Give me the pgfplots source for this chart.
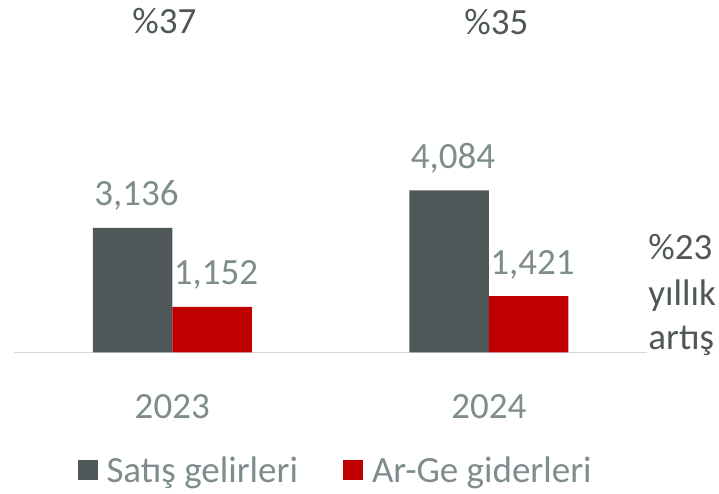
\documentclass[border=0pt]{standalone}
\usepackage{pgfplots}
\pgfplotsset{compat=1.18}
\usepackage{fontspec}
\setmainfont{Carlito}
\definecolor{barGray}{HTML}{505759}
\definecolor{barRed}{HTML}{C00000}
\definecolor{lblGray}{HTML}{7F8C8D}
\definecolor{axGray}{HTML}{D9D9D9}
\definecolor{txtDark}{HTML}{505759}
\begin{document}
\begin{tikzpicture}[font=\fontsize{37pt}{45pt}\selectfont]
\useasboundingbox (0,0) rectangle (719pt,494pt);
\begin{axis}[
  at={(14pt,141.5pt)}, anchor=south west,
  scale only axis, width=633pt, height=332.5pt,
  xmin=-0.5, xmax=1.5, ymin=0, ymax=8375,
  ybar=0pt, bar width=79.5pt,
  axis x line=bottom, axis y line=none,
  x axis line style={draw=axGray, line width=1.5pt, -},
  xtick={0,1}, xticklabels={2023,2024}, xtick style={draw=none},
  xticklabel style={anchor=base, yshift=-63.5pt, text=lblGray},
  clip=false,
  /pgf/number format/.cd, 1000 sep={,}, assume math mode=true, /pgfplots/.cd,
  nodes near coords,
  every node near coord/.append style={anchor=base, yshift=22pt, xshift=4pt, text=lblGray},
  legend columns=2,
  legend style={draw=none, fill=none, at={(axis cs:-0.300,-2960)}, anchor=west,
    nodes={inner sep=0pt}, inner sep=0pt, text=lblGray,
    /tikz/every odd column/.append style={column sep=9pt},
    /tikz/every even column/.append style={column sep=45pt}},
  legend image code/.code={\fill[#1] (0pt,-10pt) rectangle (20pt,10pt);},
]
\addplot[fill=barGray, draw=none] coordinates {(0,3136) (1,4084)};
\addplot[fill=barRed, draw=none] coordinates {(0,1152) (1,1421)};
\legend{Satış gelirleri, Ar-Ge giderleri}
\node[anchor=base, text=txtDark] at (axis cs:-0.025,8023) {\%37};
\node[anchor=base, text=txtDark] at (axis cs:1.024,7997) {\%35};
\node[anchor=base west, text=txtDark, inner sep=0pt] at (axis cs:1.504,2330) {\%23};
\node[anchor=base west, text=txtDark, inner sep=0pt] at (axis cs:1.504,1196) {yıllık};
\node[anchor=base west, text=txtDark, inner sep=0pt] at (axis cs:1.504,63) {artış};
\end{axis}
\end{tikzpicture}
\end{document}
